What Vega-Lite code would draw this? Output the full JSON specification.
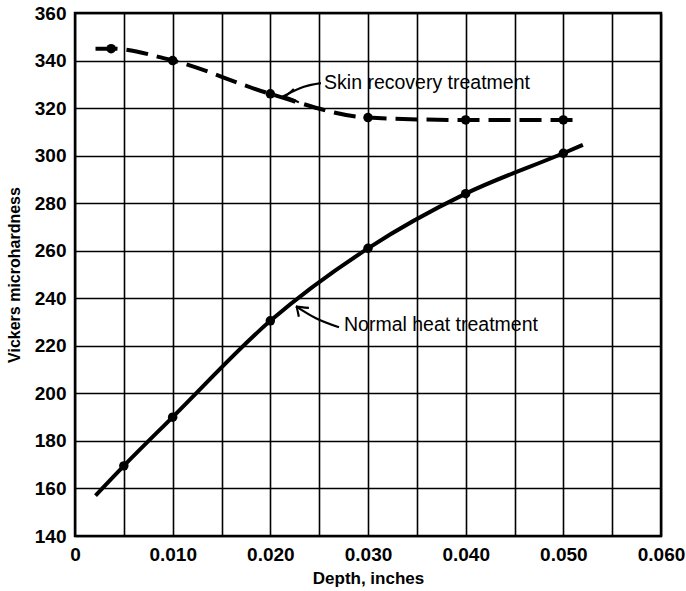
{
  "$schema": "https://vega.github.io/schema/vega-lite/v6.json",
  "autosize": "none",
  "width": 586,
  "height": 523,
  "padding": {"left": 75, "top": 13, "right": 25, "bottom": 55},
  "background": "white",
  "config": {
    "view": {"stroke": "black", "strokeWidth": 2.5},
    "font": "Liberation Sans"
  },
  "datasets": {
    "skinLine": [
      {"x": 0.0021, "y": 345},
      {"x": 0.0037, "y": 345},
      {"x": 0.010, "y": 340},
      {"x": 0.020, "y": 326},
      {"x": 0.030, "y": 316},
      {"x": 0.040, "y": 315},
      {"x": 0.050, "y": 315},
      {"x": 0.0515, "y": 315}
    ],
    "normalLine": [
      {"x": 0.0021, "y": 157},
      {"x": 0.005, "y": 169.5},
      {"x": 0.010, "y": 190},
      {"x": 0.020, "y": 230.5},
      {"x": 0.030, "y": 261},
      {"x": 0.040, "y": 284},
      {"x": 0.050, "y": 301},
      {"x": 0.052, "y": 304.5}
    ],
    "points": [
      {"x": 0.0037, "y": 345},
      {"x": 0.010, "y": 340},
      {"x": 0.020, "y": 326},
      {"x": 0.030, "y": 316},
      {"x": 0.040, "y": 315},
      {"x": 0.050, "y": 315},
      {"x": 0.005, "y": 169.5},
      {"x": 0.010, "y": 190},
      {"x": 0.020, "y": 230.5},
      {"x": 0.030, "y": 261},
      {"x": 0.040, "y": 284},
      {"x": 0.050, "y": 301}
    ],
    "arrows": [
      {"part": "s_shaft", "o": 1, "x": 0.02518, "y": 330.5},
      {"part": "s_shaft", "o": 2, "x": 0.02344, "y": 329.0},
      {"part": "s_shaft", "o": 3, "x": 0.02125, "y": 324.8},
      {"part": "s_head", "o": 1, "x": 0.02241, "y": 328.0},
      {"part": "s_head", "o": 2, "x": 0.02125, "y": 324.8},
      {"part": "s_head", "o": 3, "x": 0.02292, "y": 322.4},
      {"part": "n_shaft", "o": 1, "x": 0.02703, "y": 227.8},
      {"part": "n_shaft", "o": 2, "x": 0.02467, "y": 231.6},
      {"part": "n_shaft", "o": 3, "x": 0.02262, "y": 236.6},
      {"part": "n_head", "o": 1, "x": 0.02395, "y": 236.0},
      {"part": "n_head", "o": 2, "x": 0.02262, "y": 236.6},
      {"part": "n_head", "o": 3, "x": 0.02292, "y": 232.2}
    ],
    "labels": [
      {"x": 0.0255, "y": 330.5, "text": "Skin recovery treatment"},
      {"x": 0.02754, "y": 228.6, "text": "Normal heat treatment"}
    ]
  },
  "encoding": {
    "x": {
      "field": "x",
      "type": "quantitative",
      "scale": {"domain": [0, 0.06], "nice": false, "zero": false},
      "axis": {
        "title": "Depth, inches",
        "values": [0, 0.005, 0.01, 0.015, 0.02, 0.025, 0.03, 0.035, 0.04, 0.045, 0.05, 0.055, 0.06],
        "labelExpr": "round(datum.value * 1000) % 10 != 0 ? '' : (datum.value == 0 ? '0' : format(datum.value, '.3f'))",
        "grid": true,
        "gridColor": "black",
        "gridWidth": 1.6,
        "gridOpacity": 1,
        "ticks": false,
        "domain": false,
        "labelFont": "Liberation Sans",
        "labelFontWeight": "bold",
        "labelFontSize": 19,
        "labelColor": "black",
        "labelPadding": 9,
        "labelFlush": false,
        "labelOverlap": false,
        "titleFont": "Liberation Sans",
        "titleFontWeight": "bold",
        "titleFontSize": 17,
        "titleColor": "black",
        "titlePadding": 6
      }
    },
    "y": {
      "field": "y",
      "type": "quantitative",
      "scale": {"domain": [140, 360], "nice": false, "zero": false},
      "axis": {
        "title": "Vickers microhardness",
        "values": [140, 160, 180, 200, 220, 240, 260, 280, 300, 320, 340, 360],
        "grid": true,
        "gridColor": "black",
        "gridWidth": 1.6,
        "gridOpacity": 1,
        "ticks": false,
        "domain": false,
        "labelFont": "Liberation Sans",
        "labelFontWeight": "bold",
        "labelFontSize": 19,
        "labelColor": "black",
        "labelPadding": 9,
        "labelFlush": false,
        "labelOverlap": false,
        "titleFont": "Liberation Sans",
        "titleFontWeight": "bold",
        "titleFontSize": 16,
        "titleColor": "black",
        "titlePadding": 12
      }
    }
  },
  "layer": [
    {
      "data": {"name": "skinLine"},
      "mark": {"type": "line", "interpolate": "monotone", "color": "black", "strokeWidth": 4, "strokeDash": [22, 9]}
    },
    {
      "data": {"name": "normalLine"},
      "mark": {"type": "line", "interpolate": "monotone", "color": "black", "strokeWidth": 4}
    },
    {
      "data": {"name": "points"},
      "mark": {"type": "circle", "color": "black", "opacity": 1, "size": 90}
    },
    {
      "data": {"name": "arrows"},
      "mark": {"type": "line", "interpolate": "monotone", "color": "black", "strokeWidth": 2.2},
      "encoding": {
        "detail": {"field": "part"},
        "order": {"field": "o", "type": "quantitative"}
      }
    },
    {
      "data": {"name": "labels"},
      "mark": {"type": "text", "align": "left", "baseline": "middle", "font": "Liberation Sans", "fontSize": 19.5, "fontWeight": "normal", "color": "black"},
      "encoding": {"text": {"field": "text"}}
    }
  ]
}
